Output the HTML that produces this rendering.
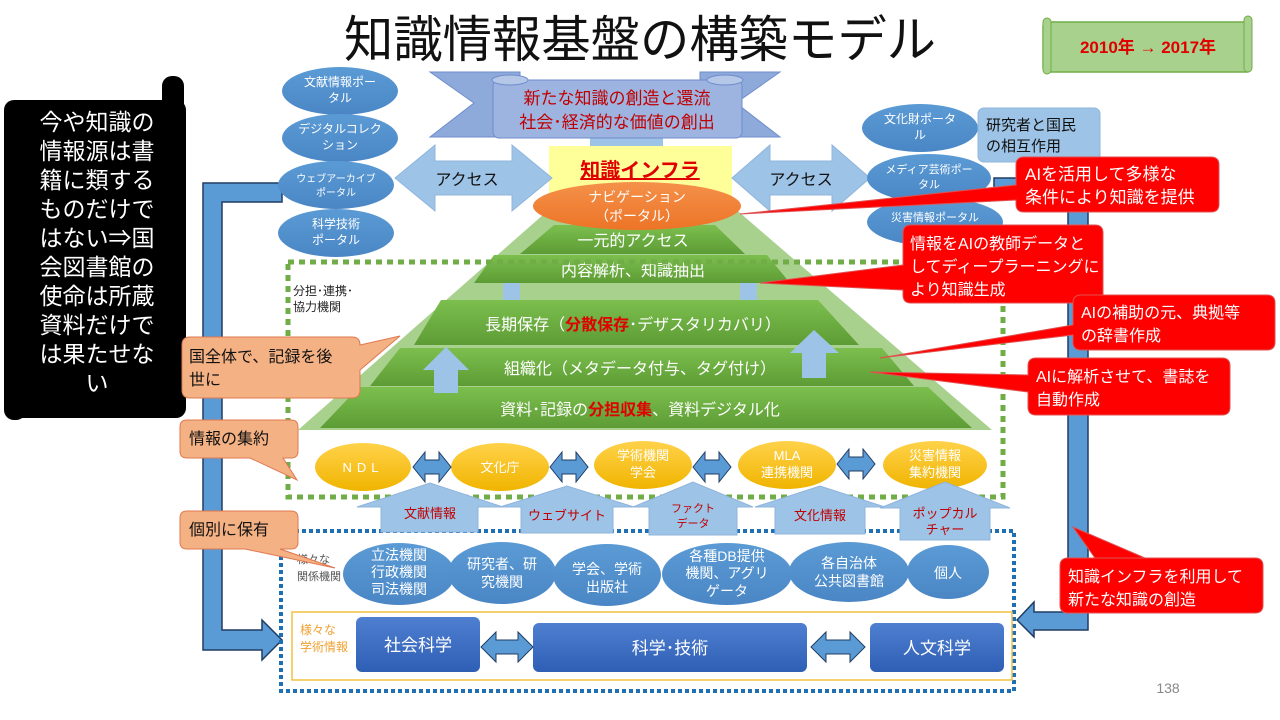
<!DOCTYPE html>
<html><head><meta charset="utf-8"><style>
body{margin:0;background:#fff;}
svg{display:block;font-family:"Liberation Sans","Noto Sans CJK JP",sans-serif;}
</style></head><body>
<svg width="1280" height="720" viewBox="0 0 1280 720" xmlns="http://www.w3.org/2000/svg">
<defs>
<linearGradient id="gg" x1="0" y1="0" x2="0" y2="1"><stop offset="0" stop-color="#7cbf4e"/><stop offset="1" stop-color="#5d9c35"/></linearGradient>
<linearGradient id="yg" x1="0" y1="0" x2="0" y2="1"><stop offset="0" stop-color="#ffd24a"/><stop offset="1" stop-color="#f0b400"/></linearGradient>
<linearGradient id="bg" x1="0" y1="0" x2="0" y2="1"><stop offset="0" stop-color="#5b9bd5"/><stop offset="1" stop-color="#4a86c5"/></linearGradient>
<linearGradient id="db" x1="0" y1="0" x2="0" y2="1"><stop offset="0" stop-color="#4f7fd0"/><stop offset="1" stop-color="#2f5fb5"/></linearGradient>
<linearGradient id="og" x1="0" y1="0" x2="0" y2="1"><stop offset="0" stop-color="#f5914a"/><stop offset="1" stop-color="#ec7427"/></linearGradient>
</defs>

<text x="640" y="57" font-size="50" text-anchor="middle" fill="#111" textLength="592" lengthAdjust="spacingAndGlyphs">知識情報基盤の構築モデル</text>
<rect x="1043" y="22" width="208" height="50" rx="4" fill="#a9d18e" stroke="#70ad47" stroke-width="1.5"/>
<rect x="1043" y="18" width="8" height="56" rx="4" fill="#a9d18e" stroke="#70ad47"/>
<rect x="1244" y="16" width="8" height="56" rx="4" fill="#a9d18e" stroke="#70ad47"/>
<text x="1148" y="53" font-size="17" font-weight="bold" fill="#e00000" text-anchor="middle">2010年 → 2017年</text>

<!-- black scroll -->
<rect x="4" y="100" width="182" height="318" rx="10" fill="#000"/>
<rect x="162" y="76" width="22" height="40" rx="10" fill="#000"/>
<rect x="4" y="380" width="22" height="40" rx="10" fill="#000"/>
<g font-size="23" fill="#fff" text-anchor="middle">
<text x="97" y="130">今や知識の</text><text x="97" y="159">情報源は書</text><text x="97" y="188">籍に類する</text><text x="97" y="217">ものだけで</text><text x="97" y="246">はない⇒国</text><text x="97" y="275">会図書館の</text><text x="97" y="304">使命は所蔵</text><text x="97" y="333">資料だけで</text><text x="97" y="362">は果たせな</text><text x="97" y="391">い</text>
</g>

<path d="M282,183 L203,183 L203,650 L262,650 L262,660 L282,640 L262,620 L262,630 L222,630 L222,202 L282,202 Z" fill="#5b9bd5" stroke="#1f3c63" stroke-width="1.5"/>
<path d="M994,178 L1088,178 L1088,630 L1034,630 L1034,637 L1017,620 L1034,602 L1034,612 L1068,612 L1068,197 L994,197 Z" fill="#5b9bd5" stroke="#1f3c63" stroke-width="1.5"/>

<polygon points="430,72 520,72 520,137 430,137 474,103" fill="#8eaadb" stroke="#6f8ccc"/>
<polygon points="780,72 700,72 700,137 780,137 736,103" fill="#8eaadb" stroke="#6f8ccc"/>
<rect x="590" y="136" width="73" height="14" fill="#9dc3e6"/>
<rect x="493" y="80" width="249" height="58" rx="6" fill="#9db3e0" stroke="#6f8ccc"/>
<ellipse cx="510" cy="80" rx="18" ry="5" fill="#b4c7e7" stroke="#6f8ccc"/>
<ellipse cx="725" cy="80" rx="18" ry="5" fill="#b4c7e7" stroke="#6f8ccc"/>
<text x="617" y="104" font-size="17" fill="#c00000" text-anchor="middle">新たな知識の創造と還流</text>
<text x="617" y="128" font-size="17" fill="#c00000" text-anchor="middle">社会･経済的な価値の創出</text>

<rect x="549" y="146" width="183" height="56" fill="#ffff99"/>
<text x="640" y="177" font-size="20" font-weight="bold" fill="#e00000" text-anchor="middle" text-decoration="underline">知識インフラ</text>

<path d="M395,178 L435,145 L435,161 L512,161 L512,145 L552,178 L512,211 L512,195 L435,195 L435,211 Z" fill="#9dc3e6" stroke="#8fb4dd"/>
<text x="467" y="185" font-size="16" fill="#111" text-anchor="middle">アクセス</text>
<path d="M732,178 L770,145 L770,161 L832,161 L832,145 L870,178 L832,211 L832,195 L770,195 L770,211 Z" fill="#9dc3e6" stroke="#8fb4dd"/>
<text x="801" y="185" font-size="16" fill="#111" text-anchor="middle">アクセス</text>

<g fill="url(#bg)">
<ellipse cx="340" cy="91" rx="58" ry="24"/><ellipse cx="340" cy="138" rx="58" ry="24"/><ellipse cx="336" cy="185" rx="58" ry="24"/><ellipse cx="336" cy="233" rx="58" ry="24"/>
<ellipse cx="920" cy="128" rx="58" ry="24"/><ellipse cx="929" cy="178" rx="62" ry="24"/><ellipse cx="935" cy="222" rx="68" ry="24"/>
</g>
<g font-size="12" fill="#fff" text-anchor="middle">
<text x="340" y="86">文献情報ポー</text><text x="340" y="102">タル</text>
<text x="340" y="133">デジタルコレク</text><text x="340" y="149">ション</text>
<text x="336" y="182" font-size="10">ウェブアーカイブ</text><text x="336" y="196" font-size="10">ポータル</text>
<text x="336" y="228">科学技術</text><text x="336" y="244">ポータル</text>
<text x="920" y="123">文化財ポータ</text><text x="920" y="139">ル</text>
<text x="929" y="173" font-size="11">メディア芸術ポー</text><text x="929" y="188" font-size="11">タル</text>
<text x="935" y="221" font-size="11">災害情報ポータル</text>
</g>
<rect x="978" y="108" width="122" height="54" rx="6" fill="#9dc3e6" stroke="#8fb4dd"/>
<text x="986" y="130" font-size="15" fill="#111">研究者と国民</text>
<text x="986" y="151" font-size="15" fill="#111">の相互作用</text>

<polygon points="560,200 725,200 992,430 298,430" fill="#a9d18e"/>
<polygon points="554,225 715,225 745,254 520,254" fill="url(#gg)"/>
<polygon points="494,255 767,255 790,283 474,283" fill="url(#gg)"/>
<rect x="503" y="283" width="17" height="17" fill="#9dc3e6"/><rect x="740" y="283" width="17" height="17" fill="#9dc3e6"/>
<polygon points="441,300 818,300 859,345 414,345" fill="url(#gg)"/>
<polygon points="400,348 882,348 914,386 370,386" fill="url(#gg)"/>
<polygon points="359,387 928,387 972,428 320,428" fill="url(#gg)"/>
<g font-size="16" fill="#fff" text-anchor="middle">
<text x="633" y="246">一元的アクセス</text>
<text x="633" y="276">内容解析、知識抽出</text>
<text x="633" y="330">長期保存（<tspan fill="#e00000" font-weight="bold">分散保存</tspan>･デザスタリカバリ）</text>
<text x="640" y="374">組織化（メタデータ付与、タグ付け）</text>
<text x="640" y="415">資料･記録の<tspan fill="#e00000" font-weight="bold">分担収集</tspan>、資料デジタル化</text>
</g>
<path d="M423,370 L446,347 L469,370 L458,370 L458,393 L434,393 L434,370 Z" fill="#9dc3e6"/>
<path d="M790,353 L814,330 L839,353 L826,353 L826,378 L802,378 L802,353 Z" fill="#9dc3e6"/>

<ellipse cx="637" cy="206" rx="104" ry="24" fill="url(#og)"/>
<text x="637" y="202" font-size="14" fill="#fff" text-anchor="middle">ナビゲーション</text>
<text x="637" y="221" font-size="14" fill="#fff" text-anchor="middle">（ポータル）</text>

<rect x="288" y="262" width="715" height="235" fill="none" stroke="#70ad47" stroke-width="5" stroke-dasharray="6 5"/>
<text x="293" y="295" font-size="12" fill="#222">分担･連携･</text>
<text x="293" y="311" font-size="12" fill="#222">協力機関</text>

<g fill="url(#yg)">
<ellipse cx="363" cy="467" rx="48" ry="24"/><ellipse cx="500" cy="467" rx="49" ry="24"/><ellipse cx="643" cy="465" rx="49" ry="24"/><ellipse cx="787" cy="465" rx="49" ry="24"/><ellipse cx="935" cy="465" rx="52" ry="24"/>
</g>
<g font-size="13" fill="#fff" text-anchor="middle">
<text x="363" y="472" letter-spacing="5">NDL</text><text x="500" y="472">文化庁</text>
<text x="643" y="460">学術機関</text><text x="643" y="477">学会</text>
<text x="787" y="460">MLA</text><text x="787" y="477">連携機関</text>
<text x="935" y="460">災害情報</text><text x="935" y="477">集約機関</text>
</g>
<g fill="#5b9bd5" stroke="#1f3c63" stroke-width="1">
<path d="M413,467 L425,452 L425,460 L439,460 L439,452 L451,467 L439,482 L439,474 L425,474 L425,482 Z"/>
<path d="M550,467 L562,452 L562,460 L576,460 L576,452 L588,467 L576,482 L576,474 L562,474 L562,482 Z"/>
<path d="M693,467 L705,452 L705,460 L719,460 L719,452 L731,467 L719,482 L719,474 L705,474 L705,482 Z"/>
<path d="M837,464 L849,449 L849,457 L863,457 L863,449 L875,464 L863,479 L863,471 L849,471 L849,479 Z"/>
</g>

<rect x="281" y="531" width="733" height="160" fill="none" stroke="#1f6fb5" stroke-width="4" stroke-dasharray="4 3"/>

<g fill="#9dc3e6" stroke="#8fb4dd">
<path d="M357,507 L430,483 L503,507 L478,507 L478,532 L381,532 L381,507 Z"/>
<path d="M500,507 L567,486 L634,507 L613,507 L613,533 L521,533 L521,507 Z"/>
<path d="M633,507 L693,482 L753,507 L737,507 L737,535 L649,535 L649,507 Z"/>
<path d="M755,507 L820,486 L885,507 L865,507 L865,534 L775,534 L775,507 Z"/>
<path d="M880,508 L945,482 L1010,508 L990,508 L990,540 L900,540 L900,508 Z"/>
</g>
<g font-size="13" fill="#c00000" text-anchor="middle">
<text x="430" y="518">文献情報</text><text x="567" y="520">ウェブサイト</text>
<text x="693" y="512" font-size="11">ファクト</text><text x="693" y="527" font-size="11">データ</text>
<text x="820" y="520">文化情報</text>
<text x="945" y="518">ポップカル</text><text x="945" y="534">チャー</text>
</g>

<text x="297" y="563" font-size="11" fill="#555">様々な</text>
<text x="297" y="580" font-size="11" fill="#555">関係機関</text>
<g fill="url(#bg)">
<ellipse cx="399" cy="574" rx="56" ry="31"/><ellipse cx="502" cy="573" rx="54" ry="31"/><ellipse cx="607" cy="575" rx="54" ry="31"/><ellipse cx="727" cy="574" rx="65" ry="31"/><ellipse cx="849" cy="572" rx="60" ry="30"/><ellipse cx="948" cy="572" rx="41" ry="27"/>
</g>
<g font-size="14" fill="#fff" text-anchor="middle">
<text x="399" y="560">立法機関</text><text x="399" y="577">行政機関</text><text x="399" y="594">司法機関</text>
<text x="502" y="569">研究者、研</text><text x="502" y="587">究機関</text>
<text x="607" y="574">学会、学術</text><text x="607" y="592">出版社</text>
<text x="727" y="561">各種DB提供</text><text x="727" y="578">機関、アグリ</text><text x="727" y="596">ゲータ</text>
<text x="849" y="568">各自治体</text><text x="849" y="586">公共図書館</text>
<text x="948" y="578">個人</text>
</g>

<rect x="292" y="612" width="720" height="68" fill="#fff" stroke="#f0c040" stroke-width="1.5"/>
<text x="300" y="634" font-size="12" fill="#f0a030">様々な</text>
<text x="300" y="651" font-size="12" fill="#f0a030">学術情報</text>
<rect x="356" y="617" width="124" height="55" rx="6" fill="url(#db)"/>
<rect x="533" y="623" width="274" height="49" rx="6" fill="url(#db)"/>
<rect x="870" y="623" width="134" height="49" rx="6" fill="url(#db)"/>
<g font-size="17" fill="#fff" text-anchor="middle">
<text x="418" y="651">社会科学</text><text x="670" y="654">科学･技術</text><text x="937" y="654">人文科学</text>
</g>
<g fill="#5b9bd5" stroke="#1f3c63">
<path d="M481,647 L496,632 L496,640 L518,640 L518,632 L533,647 L518,662 L518,654 L496,654 L496,662 Z"/>
<path d="M811,647 L826,632 L826,640 L850,640 L850,632 L865,647 L850,662 L850,654 L826,654 L826,662 Z"/>
</g>

<g fill="#f4b183" stroke="#e07850" stroke-width="1">
<path d="M190,337 L352,337 Q360,337 360,345 L400,336 L360,370 L360,390 Q360,398 352,398 L190,398 Q182,398 182,390 L182,345 Q182,337 190,337 Z"/>
<path d="M187,420 L291,420 Q298,420 298,427 L298,451 Q298,458 291,458 L283,458 L297,480 L250,458 L187,458 Q180,458 180,451 L180,427 Q180,420 187,420 Z"/>
<path d="M187,511 L291,511 Q298,511 298,518 L298,542 Q298,549 291,549 L280,549 L335,568 L245,549 L187,549 Q180,549 180,542 L180,518 Q180,511 187,511 Z"/>
</g>
<g font-size="16" fill="#111">
<text x="189" y="362">国全体で、記録を後</text><text x="189" y="385">世に</text>
<text x="189" y="444">情報の集約</text>
<text x="189" y="535">個別に保有</text>
</g>

<g fill="#ff0000" stroke="#e05050" stroke-width="1">
<path d="M1024,157 L1211,157 Q1219,157 1219,165 L1219,204 Q1219,212 1211,212 L1024,212 Q1016,212 1016,204 L1016,200 L740,214 L1016,185 L1016,165 Q1016,157 1024,157 Z"/>
<path d="M911,225 L1095,225 Q1103,225 1103,233 L1103,295 Q1103,303 1095,303 L911,303 Q903,303 903,295 L903,290 L760,283 L903,265 L903,233 Q903,225 911,225 Z"/>
<path d="M1081,295 L1267,295 Q1275,295 1275,303 L1275,342 Q1275,350 1267,350 L1081,350 Q1073,350 1073,342 L1073,335 L880,358 L1073,325 L1073,303 Q1073,295 1081,295 Z"/>
<path d="M1036,358 L1222,358 Q1230,358 1230,366 L1230,407 Q1230,415 1222,415 L1036,415 Q1028,415 1028,407 L1028,392 L870,372 L1028,375 L1028,366 Q1028,358 1036,358 Z"/>
<path d="M1068,558 L1255,558 Q1263,558 1263,566 L1263,605 Q1263,613 1255,613 L1068,613 Q1060,613 1060,605 L1060,566 Q1060,558 1068,558 L1095,558 L1073,527 L1145,558 Z"/>
</g>
<g font-size="17" fill="#fff">
<text x="1025" y="180">AIを活用して多様な</text><text x="1025" y="203">条件により知識を提供</text>
<text x="910" y="249" font-size="16">情報をAIの教師データと</text><text x="910" y="272" font-size="16">してディープラーニングに</text><text x="910" y="295" font-size="16">より知識生成</text>
<text x="1081" y="318" font-size="16">AIの補助の元、典拠等</text><text x="1081" y="341" font-size="16">の辞書作成</text>
<text x="1036" y="382" font-size="16">AIに解析させて、書誌を</text><text x="1036" y="405" font-size="16">自動作成</text>
<text x="1068" y="582" font-size="16">知識インフラを利用して</text><text x="1068" y="605" font-size="16">新たな知識の創造</text>
</g>

<text x="1168" y="693" font-size="14" fill="#888" text-anchor="middle">138</text>
</svg>
</body></html>
